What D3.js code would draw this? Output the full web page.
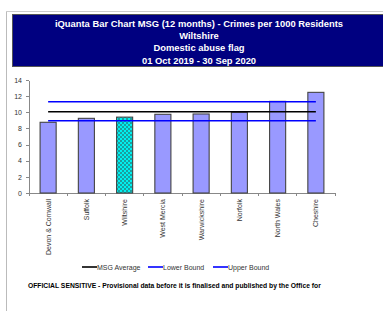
<!DOCTYPE html>
<meta charset="utf-8">
<head>
<style>
  body { margin: 0; background: #fff; }
  text { font-family: "Liberation Sans", Arial, sans-serif; }
  .axis path, .axis line { fill: none; stroke: #888; shape-rendering: crispEdges; }
  .axis text { fill: #333; font-size: 7px; }
</style>
</head>
<body>
<script src="https://cdnjs.cloudflare.com/ajax/libs/d3/7.8.5/d3.min.js"></script>
<script>

const categories = ["Devon & Cornwall", "Suffolk", "Wiltshire", "West Mercia",
  "Warwickshire", "Norfolk", "North Wales", "Cheshire"];
const rates = [8.76, 9.25, 9.4, 9.75, 9.79, 10.0, 11.35, 12.47];
const highlight = "Wiltshire";

const msgAverage = [10.07, 10.07, 10.07, 10.07, 10.07, 10.07, 10.07, 10.07];
const lowerBound = [8.96, 8.96, 8.96, 8.96, 8.96, 8.96, 8.96, 8.96];
const upperBound = [11.3, 11.3, 11.3, 11.3, 11.3, 11.3, 11.3, 11.3];

const yTicks = [0, 2, 4, 6, 8, 10, 12, 14];

const titleLines = [
  "iQuanta Bar Chart MSG (12 months) - Crimes per 1000 Residents",
  "Wiltshire",
  "Domestic abuse flag",
  "01 Oct 2019 - 30 Sep 2020"
];

const legendItems = [
  {name: "MSG Average", color: "#000"},
  {name: "Lower Bound", color: "#0000ff"},
  {name: "Upper Bound", color: "#0000ff"}
];

const footer = "OFFICIAL SENSITIVE - Provisional data before it is finalised and published by the Office for";

const W = 383, H = 311;
const plot = {left: 29, right: 335, top: 80, bottom: 193};

const svg = d3.select("body").append("svg")
  .attr("width", W)
  .attr("height", H);

// page frame
svg.append("line").attr("x1", 6.5).attr("x2", 6.5).attr("y1", 11).attr("y2", H)
  .attr("stroke", "#bbb");
svg.append("line").attr("x1", 6).attr("x2", W).attr("y1", 11.5).attr("y2", 11.5)
  .attr("stroke", "#ccc");

// title box
svg.append("rect")
  .attr("x", 12.5).attr("y", 14.5)
  .attr("width", 380).attr("height", 52)
  .attr("fill", "#000080")
  .attr("stroke", "#555");

svg.append("g").selectAll("text")
  .data(titleLines)
  .join("text")
    .attr("x", 199)
    .attr("y", (d, i) => 26.5 + i * 12.4)
    .attr("text-anchor", "middle")
    .attr("fill", "#fff")
    .attr("font-weight", "bold")
    .attr("font-size", "9.4px")
    .text(d => d);

// pattern for the highlighted force
const defs = svg.append("defs");
const pat = defs.append("pattern")
  .attr("id", "check")
  .attr("patternUnits", "userSpaceOnUse")
  .attr("width", 4).attr("height", 4);
pat.append("rect").attr("width", 4).attr("height", 4).attr("fill", "#00f0f0");
pat.append("rect").attr("width", 2).attr("height", 2).attr("fill", "#1a9f9f");
pat.append("rect").attr("x", 2).attr("y", 2).attr("width", 2).attr("height", 2).attr("fill", "#1a9f9f");

const x = d3.scaleBand()
  .domain(categories)
  .range([plot.left, plot.right])
  .paddingInner(0.58)
  .paddingOuter(0.29);

const y = d3.scaleLinear()
  .domain([0, 14])
  .range([plot.bottom, plot.top]);

// y axis
svg.append("g")
  .attr("class", "axis")
  .attr("transform", "translate(" + plot.left + ",0)")
  .call(d3.axisLeft(y).tickValues(yTicks).tickSize(3).tickPadding(4).tickSizeOuter(0));

// x axis with ticks at band boundaries
const xAxisG = svg.append("g")
  .attr("class", "axis")
  .attr("transform", "translate(0," + plot.bottom + ")");
xAxisG.append("path")
  .attr("d", "M" + plot.left + ",0.5H" + plot.right);
const step = x.step();
xAxisG.selectAll("line")
  .data(d3.range(categories.length + 1))
  .join("line")
    .attr("x1", i => plot.left + i * step)
    .attr("x2", i => plot.left + i * step)
    .attr("y1", 0).attr("y2", 3);
xAxisG.selectAll("text")
  .data(categories)
  .join("text")
    .attr("transform", d => "translate(" + (x(d) + x.bandwidth() / 2 + 2.5) + ",6) rotate(-90)")
    .attr("text-anchor", "end")
    .attr("font-size", "7px")
    .attr("fill", "#444")
    .text(d => d);

// bars
svg.append("g")
  .selectAll("rect")
  .data(categories)
  .join("rect")
    .attr("x", d => x(d))
    .attr("y", (d, i) => y(rates[i]))
    .attr("width", x.bandwidth())
    .attr("height", (d, i) => y(0) - y(rates[i]))
    .attr("fill", d => d === highlight ? "url(#check)" : "#9999ff")
    .attr("stroke", "#444")
    .attr("stroke-width", 1.1);

// reference lines
const line = d3.line()
  .x((d, i) => x(categories[i]) + x.bandwidth() / 2)
  .y(d => y(d));

const series = [
  {values: upperBound, color: "#0000ff"},
  {values: msgAverage, color: "#000"},
  {values: lowerBound, color: "#0000ff"}
];
svg.append("g")
  .selectAll("path")
  .data(series)
  .join("path")
    .attr("d", d => line(d.values))
    .attr("fill", "none")
    .attr("stroke", d => d.color)
    .attr("stroke-width", 1.6);

// legend
const legendX = [82, 148, 213];
const legend = svg.append("g").attr("transform", "translate(0,267)");
const li = legend.selectAll("g")
  .data(legendItems)
  .join("g")
    .attr("transform", (d, i) => "translate(" + legendX[i] + ",0)");
li.append("line")
  .attr("x1", 0).attr("x2", 15)
  .attr("stroke", d => d.color)
  .attr("stroke-width", 1.6);
li.append("text")
  .attr("x", 15).attr("y", 2.5)
  .attr("font-size", "7px")
  .attr("fill", "#333")
  .text(d => d.name);

// footer
svg.append("text")
  .attr("x", 28)
  .attr("y", 288)
  .attr("font-size", "6.75px")
  .attr("font-weight", "bold")
  .attr("fill", "#000")
  .text(footer);

</script>
</body>
